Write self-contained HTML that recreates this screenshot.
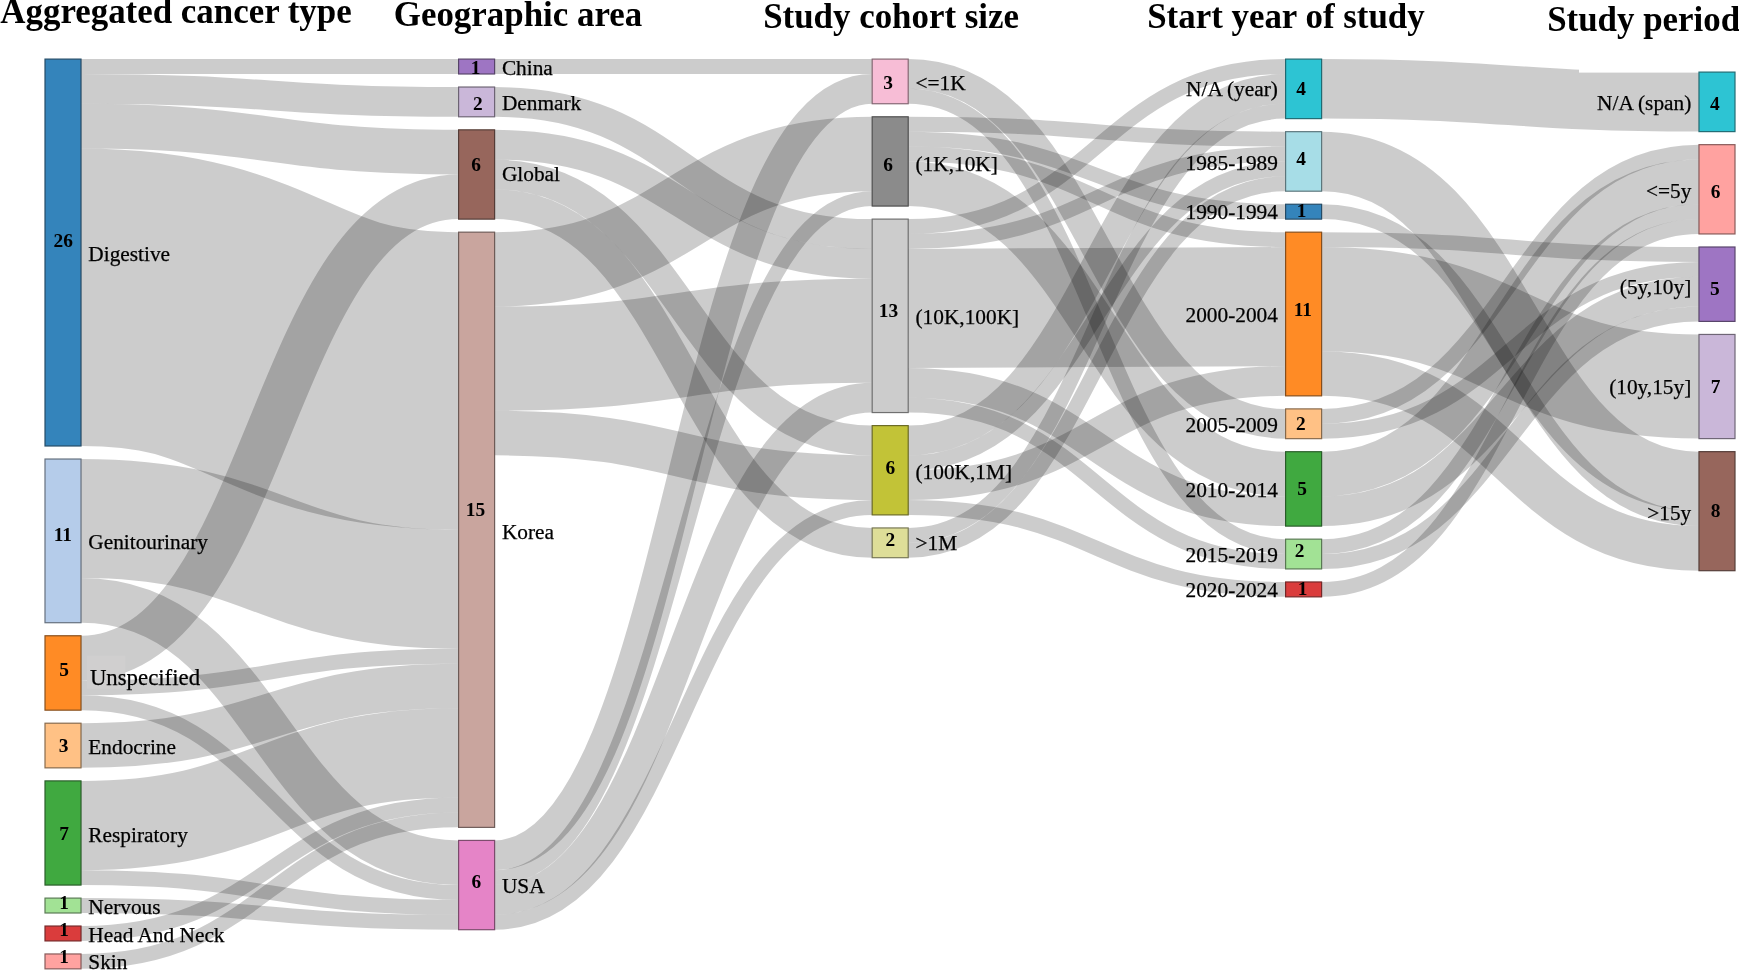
<!DOCTYPE html>
<html lang="en">
<head>
<meta charset="utf-8">
<title>Sankey diagram of study characteristics</title>
<style>
html,body{margin:0;padding:0;background:#fff;}
body{width:1739px;height:971px;overflow:hidden;}
svg{display:block;font-family:"Liberation Serif",serif;filter:blur(0.4px);}
.link{fill:none;stroke:#000;stroke-opacity:0.2;}
.node rect{opacity:0.9;stroke-width:1.2;}
.lab{font-size:21.33px;fill:#000;stroke:#000;stroke-width:0.25px;}
.num{font-size:19.4px;font-weight:bold;fill:#000;text-anchor:middle;}
.title{font-size:34.9px;font-weight:bold;fill:#000;}
</style>
</head>
<body>
<svg width="1739" height="971" viewBox="0 0 1739 971">
<rect x="0" y="0" width="1739" height="971" fill="#fff"/>
<g class="links">
<path class="link" d="M81,66.54C269.8,66.54 269.8,66.54 458.6,66.54" stroke-width="14.88"/>
<path class="link" d="M81,88.86C269.8,88.86 269.8,101.91 458.6,101.91" stroke-width="29.76"/>
<path class="link" d="M81,126.06C269.8,126.06 269.8,152.16 458.6,152.16" stroke-width="44.64"/>
<path class="link" d="M81,297.18C269.8,297.18 269.8,380.97 458.6,380.97" stroke-width="297.6"/>
<path class="link" d="M81,518.55C269.8,518.55 269.8,589.29 458.6,589.29" stroke-width="119.04"/>
<path class="link" d="M81,600.39C269.8,600.39 269.8,862.74 458.6,862.74" stroke-width="44.64"/>
<path class="link" d="M81,658.08C269.8,658.08 269.8,196.8 458.6,196.8" stroke-width="44.64"/>
<path class="link" d="M81,687.84C269.8,687.84 269.8,656.25 458.6,656.25" stroke-width="14.88"/>
<path class="link" d="M81,702.72C269.8,702.72 269.8,892.5 458.6,892.5" stroke-width="14.88"/>
<path class="link" d="M81,745.53C269.8,745.53 269.8,686.01 458.6,686.01" stroke-width="44.64"/>
<path class="link" d="M81,825.54C269.8,825.54 269.8,752.97 458.6,752.97" stroke-width="89.28"/>
<path class="link" d="M81,877.62C269.8,877.62 269.8,907.38 458.6,907.38" stroke-width="14.88"/>
<path class="link" d="M81,905.55C269.8,905.55 269.8,922.26 458.6,922.26" stroke-width="14.88"/>
<path class="link" d="M81,933.48C269.8,933.48 269.8,805.05 458.6,805.05" stroke-width="14.88"/>
<path class="link" d="M81,961.41C269.8,961.41 269.8,819.93 458.6,819.93" stroke-width="14.88"/>
<path class="link" d="M494.6,66.54C683.4,66.54 683.4,66.54 872.2,66.54" stroke-width="14.88"/>
<path class="link" d="M494.6,101.91C683.4,101.91 683.4,234 872.2,234" stroke-width="29.76"/>
<path class="link" d="M494.6,144.72C683.4,144.72 683.4,263.76 872.2,263.76" stroke-width="29.76"/>
<path class="link" d="M494.6,174.48C683.4,174.48 683.4,440.49 872.2,440.49" stroke-width="29.76"/>
<path class="link" d="M494.6,204.24C683.4,204.24 683.4,542.82 872.2,542.82" stroke-width="29.76"/>
<path class="link" d="M494.6,269.37C683.4,269.37 683.4,153.99 872.2,153.99" stroke-width="74.4"/>
<path class="link" d="M494.6,358.65C683.4,358.65 683.4,330.72 872.2,330.72" stroke-width="104.16"/>
<path class="link" d="M494.6,433.05C683.4,433.05 683.4,477.69 872.2,477.69" stroke-width="44.64"/>
<path class="link" d="M494.6,855.3C683.4,855.3 683.4,88.86 872.2,88.86" stroke-width="29.76"/>
<path class="link" d="M494.6,877.62C683.4,877.62 683.4,198.63 872.2,198.63" stroke-width="14.88"/>
<path class="link" d="M494.6,899.94C683.4,899.94 683.4,397.68 872.2,397.68" stroke-width="29.76"/>
<path class="link" d="M494.6,922.26C683.4,922.26 683.4,507.45 872.2,507.45" stroke-width="14.88"/>
<path class="link" d="M908.2,124.23C1096.9,124.23 1096.9,139.11 1285.6,139.11" stroke-width="14.88"/>
<path class="link" d="M908.2,139.11C1096.9,139.11 1096.9,211.68 1285.6,211.68" stroke-width="14.88"/>
<path class="link" d="M908.2,153.99C1096.9,153.99 1096.9,239.61 1285.6,239.61" stroke-width="14.88"/>
<path class="link" d="M908.2,226.56C1096.9,226.56 1096.9,66.54 1285.6,66.54" stroke-width="14.88"/>
<path class="link" d="M908.2,241.44C1096.9,241.44 1096.9,153.99 1285.6,153.99" stroke-width="14.88"/>
<path class="link" d="M908.2,308.4C1096.9,308.4 1096.9,306.57 1285.6,306.57" stroke-width="119.04"/>
<path class="link" d="M908.2,382.8C1096.9,382.8 1096.9,511.23 1285.6,511.23" stroke-width="29.76"/>
<path class="link" d="M908.2,405.12C1096.9,405.12 1096.9,561.48 1285.6,561.48" stroke-width="14.88"/>
<path class="link" d="M908.2,440.49C1096.9,440.49 1096.9,88.86 1285.6,88.86" stroke-width="29.76"/>
<path class="link" d="M908.2,462.81C1096.9,462.81 1096.9,168.87 1285.6,168.87" stroke-width="14.88"/>
<path class="link" d="M908.2,485.13C1096.9,485.13 1096.9,380.97 1285.6,380.97" stroke-width="29.76"/>
<path class="link" d="M908.2,507.45C1096.9,507.45 1096.9,589.41 1285.6,589.41" stroke-width="14.88"/>
<path class="link" d="M908.2,535.38C1096.9,535.38 1096.9,111.18 1285.6,111.18" stroke-width="14.88"/>
<path class="link" d="M908.2,550.26C1096.9,550.26 1096.9,183.75 1285.6,183.75" stroke-width="14.88"/>
<path class="link" d="M908.2,73.98C1096.9,73.98 1096.9,423.78 1285.6,423.78" stroke-width="29.76"/>
<path class="link" d="M908.2,96.3C1096.9,96.3 1096.9,546.6 1285.6,546.6" stroke-width="14.88"/>
<path class="link" d="M908.2,183.75C1096.9,183.75 1096.9,474.03 1285.6,474.03" stroke-width="44.64"/>
<path class="link" d="M1321.6,88.86C1510.3,88.86 1510.3,101.86 1699,101.86" stroke-width="59.52"/>
<path class="link" d="M1321.6,161.43C1510.3,161.43 1510.3,481.42 1699,481.42" stroke-width="59.52"/>
<path class="link" d="M1321.6,211.68C1510.3,211.68 1510.3,518.62 1699,518.62" stroke-width="14.88"/>
<path class="link" d="M1321.6,239.61C1510.3,239.61 1510.3,254.44 1699,254.44" stroke-width="14.88"/>
<path class="link" d="M1321.6,299.13C1510.3,299.13 1510.3,386.53 1699,386.53" stroke-width="104.16"/>
<path class="link" d="M1321.6,373.53C1510.3,373.53 1510.3,548.38 1699,548.38" stroke-width="44.64"/>
<path class="link" d="M1321.6,416.34C1510.3,416.34 1510.3,152.11 1699,152.11" stroke-width="14.88"/>
<path class="link" d="M1321.6,431.22C1510.3,431.22 1510.3,269.32 1699,269.32" stroke-width="14.88"/>
<path class="link" d="M1321.6,474.03C1510.3,474.03 1510.3,181.87 1699,181.87" stroke-width="44.64"/>
<path class="link" d="M1321.6,511.23C1510.3,511.23 1510.3,291.64 1699,291.64" stroke-width="29.76"/>
<path class="link" d="M1321.6,546.6C1510.3,546.6 1510.3,211.63 1699,211.63" stroke-width="14.88"/>
<path class="link" d="M1321.6,561.48C1510.3,561.48 1510.3,313.96 1699,313.96" stroke-width="14.88"/>
<path class="link" d="M1321.6,589.41C1510.3,589.41 1510.3,226.51 1699,226.51" stroke-width="14.88"/>
</g>
<rect x="1579" y="50" width="121" height="22.6" fill="#fff"/>
<rect x="87" y="655.8" width="38.2" height="33" fill="#d0cfcf"/>
<g class="node">
<rect x="45" y="59.1" width="36" height="386.88" fill="#1f77b4" stroke="#0f3a58"/>
<rect x="45" y="459.03" width="36" height="163.68" fill="#aec7e8" stroke="#556171"/>
<rect x="45" y="635.76" width="36" height="74.4" fill="#ff7f0e" stroke="#7c3e06"/>
<rect x="45" y="723.21" width="36" height="44.64" fill="#ffbb78" stroke="#7c5b3a"/>
<rect x="45" y="780.9" width="36" height="104.16" fill="#2ca02c" stroke="#154e15"/>
<rect x="45" y="898.11" width="36" height="14.88" fill="#98df8a" stroke="#4a6d43"/>
<rect x="45" y="926.04" width="36" height="14.88" fill="#d62728" stroke="#681313"/>
<rect x="45" y="953.97" width="36" height="14.88" fill="#ff9896" stroke="#7c4a49"/>
<rect x="458.6" y="59.1" width="36" height="14.88" fill="#9467bd" stroke="#48325c"/>
<rect x="458.6" y="87.03" width="36" height="29.76" fill="#c5b0d5" stroke="#605668"/>
<rect x="458.6" y="129.84" width="36" height="89.28" fill="#8c564b" stroke="#442a24"/>
<rect x="458.6" y="232.17" width="36" height="595.2" fill="#c49c94" stroke="#604c48"/>
<rect x="458.6" y="840.42" width="36" height="89.28" fill="#e377c2" stroke="#6f3a5f"/>
<rect x="872.2" y="59.1" width="36" height="44.64" fill="#f7b6d2" stroke="#795966"/>
<rect x="872.2" y="116.79" width="36" height="89.28" fill="#7f7f7f" stroke="#3e3e3e"/>
<rect x="872.2" y="219.12" width="36" height="193.44" fill="#c7c7c7" stroke="#616161"/>
<rect x="872.2" y="425.61" width="36" height="89.28" fill="#bcbd22" stroke="#5c5c10"/>
<rect x="872.2" y="527.94" width="36" height="29.76" fill="#dbdb8d" stroke="#6b6b45"/>
<rect x="1285.6" y="59.1" width="36" height="59.52" fill="#17becf" stroke="#0b5d65"/>
<rect x="1285.6" y="131.67" width="36" height="59.52" fill="#9edae5" stroke="#4d6a70"/>
<rect x="1285.6" y="204.24" width="36" height="14.88" fill="#1f77b4" stroke="#0f3a58"/>
<rect x="1285.6" y="232.17" width="36" height="163.68" fill="#ff7f0e" stroke="#7c3e06"/>
<rect x="1285.6" y="408.9" width="36" height="29.76" fill="#ffbb78" stroke="#7c5b3a"/>
<rect x="1285.6" y="451.71" width="36" height="74.4" fill="#2ca02c" stroke="#154e15"/>
<rect x="1285.6" y="539.16" width="36" height="29.76" fill="#98df8a" stroke="#4a6d43"/>
<rect x="1285.6" y="581.97" width="36" height="14.88" fill="#d62728" stroke="#681313"/>
<rect x="1699" y="72.1" width="36" height="59.52" fill="#17becf" stroke="#0b5d65"/>
<rect x="1699" y="144.67" width="36" height="89.28" fill="#ff9896" stroke="#7c4a49"/>
<rect x="1699" y="247" width="36" height="74.4" fill="#9467bd" stroke="#48325c"/>
<rect x="1699" y="334.45" width="36" height="104.16" fill="#c5b0d5" stroke="#605668"/>
<rect x="1699" y="451.66" width="36" height="119.04" fill="#8c564b" stroke="#442a24"/>
</g>
<g class="labels">
<text class="lab" x="88.3" y="260.7">Digestive</text>
<text class="lab" x="88.3" y="548.6">Genitourinary</text>
<text class="lab" x="89.9" y="684.6" style="font-size:22.8px">Unspecified</text>
<text class="lab" x="88.3" y="753.8">Endocrine</text>
<text class="lab" x="88.3" y="841.8">Respiratory</text>
<text class="lab" x="88.3" y="914.3">Nervous</text>
<text class="lab" x="88.3" y="942.3">Head And Neck</text>
<text class="lab" x="88.3" y="969.1">Skin</text>
<text class="lab" x="501.9" y="74.6">China</text>
<text class="lab" x="501.9" y="109.5">Denmark</text>
<text class="lab" x="501.9" y="181.4">Global</text>
<text class="lab" x="501.9" y="538.7">Korea</text>
<text class="lab" x="501.9" y="893.4">USA</text>
<text class="lab" x="915.5" y="89.9">&lt;=1K</text>
<text class="lab" x="915.5" y="170.8">(1K,10K]</text>
<text class="lab" x="915.5" y="324.2">(10K,100K]</text>
<text class="lab" x="915.5" y="479.1">(100K,1M]</text>
<text class="lab" x="915.5" y="550.2">&gt;1M</text>
<text class="lab" x="1277.9" y="96.1" text-anchor="end">N/A (year)</text>
<text class="lab" x="1277.9" y="169.6" text-anchor="end">1985-1989</text>
<text class="lab" x="1277.9" y="218.6" text-anchor="end">1990-1994</text>
<text class="lab" x="1277.9" y="321.5" text-anchor="end">2000-2004</text>
<text class="lab" x="1277.9" y="431.9" text-anchor="end">2005-2009</text>
<text class="lab" x="1277.9" y="496.5" text-anchor="end">2010-2014</text>
<text class="lab" x="1277.9" y="562.3" text-anchor="end">2015-2019</text>
<text class="lab" x="1277.9" y="596.7" text-anchor="end">2020-2024</text>
<text class="lab" x="1691.3" y="110" text-anchor="end">N/A (span)</text>
<text class="lab" x="1691.3" y="198.2" text-anchor="end">&lt;=5y</text>
<text class="lab" x="1691.3" y="293.6" text-anchor="end">(5y,10y]</text>
<text class="lab" x="1691.3" y="394.3" text-anchor="end">(10y,15y]</text>
<text class="lab" x="1691.3" y="519.9" text-anchor="end">&gt;15y</text>
</g>
<g class="nums">
<text class="num" x="63.2" y="246.7">26</text>
<text class="num" x="62.9" y="541.2">11</text>
<text class="num" x="64" y="675.9">5</text>
<text class="num" x="63.7" y="751.8">3</text>
<text class="num" x="64" y="840">7</text>
<text class="num" x="64.2" y="909.3">1</text>
<text class="num" x="64.2" y="936.4">1</text>
<text class="num" x="64.2" y="963.4">1</text>
<text class="num" x="475.7" y="73.5">1</text>
<text class="num" x="477.9" y="109.7">2</text>
<text class="num" x="476" y="171">6</text>
<text class="num" x="475.4" y="515.7">15</text>
<text class="num" x="476.3" y="888.3">6</text>
<text class="num" x="888" y="88.9">3</text>
<text class="num" x="888.1" y="171.3">6</text>
<text class="num" x="888.5" y="316.7">13</text>
<text class="num" x="890.3" y="474">6</text>
<text class="num" x="890.3" y="546.3">2</text>
<text class="num" x="1301.1" y="94.7">4</text>
<text class="num" x="1301" y="165.3">4</text>
<text class="num" x="1301.7" y="216.6">1</text>
<text class="num" x="1302.9" y="315.7">11</text>
<text class="num" x="1300.9" y="429.7">2</text>
<text class="num" x="1302" y="495.4">5</text>
<text class="num" x="1299.6" y="556.6">2</text>
<text class="num" x="1302.6" y="594.7">1</text>
<text class="num" x="1714.8" y="109.5">4</text>
<text class="num" x="1715.7" y="197.6">6</text>
<text class="num" x="1714.9" y="294.5">5</text>
<text class="num" x="1715.6" y="393">7</text>
<text class="num" x="1715.6" y="516.6">8</text>
</g>
<g class="titles">
<text class="title" x="0.3" y="23.2">Aggregated cancer type</text>
<text class="title" x="393.8" y="25.8">Geographic area</text>
<text class="title" x="763.2" y="28">Study cohort size</text>
<text class="title" x="1147.2" y="27.7">Start year of study</text>
<text class="title" x="1547.2" y="30.8">Study period</text>
</g>
</svg>
</body>
</html>
